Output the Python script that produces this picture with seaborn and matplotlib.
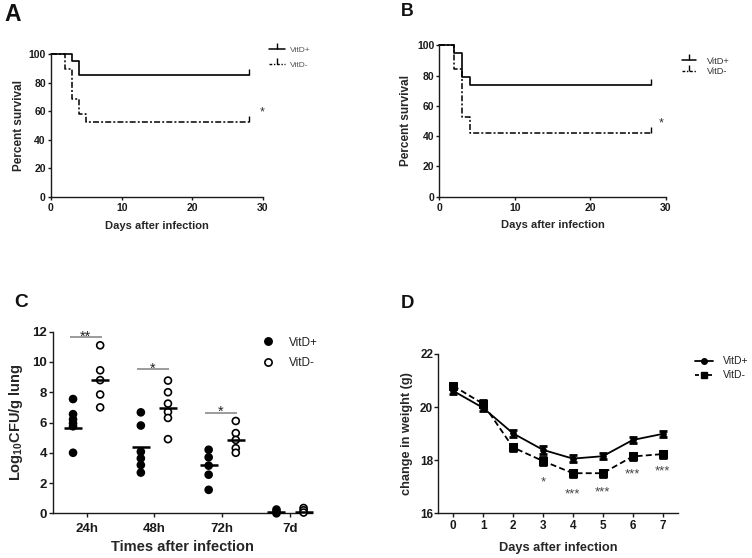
import numpy as np
import pandas as pd
import matplotlib
matplotlib.use("Agg")
import matplotlib.pyplot as plt
import seaborn as sns
from matplotlib.lines import Line2D

# ---------------- data ----------------
groups = ["VitD+", "VitD-"]

# Panel A (Kaplan-Meier steps)
days_a_pos = [0, 3, 4, 28]
surv_a_pos = [100, 95, 85, 85]
days_a_neg = [0, 2, 3, 4, 5, 28]
surv_a_neg = [100, 89.5, 68.4, 57.9, 52.6, 52.6]
star_a = (29.9, 59.4)

# Panel B
days_b_pos = [0, 2, 3, 4, 28]
surv_b_pos = [100, 94.7, 78.9, 73.7, 73.7]
days_b_neg = [0, 2, 3, 4, 28]
surv_b_neg = [100, 84.2, 52.6, 42.1, 42.1]
star_b = (29.4, 48.7)

survival_ticks = [0, 20, 40, 60, 80, 100]
day_ticks = [0, 10, 20, 30]

# Panel C (log10 CFU per g lung)
times_c = ["24h", "48h", "72h", "7d"]
cfu_pos_24h = [7.55, 6.55, 6.2, 5.95, 5.75, 4.0]
cfu_neg_24h = [11.1, 9.45, 8.8, 7.85, 7.0]
cfu_pos_48h = [6.67, 5.8, 4.07, 3.63, 3.19, 2.69]
cfu_neg_48h = [8.77, 8.0, 7.25, 6.7, 6.3, 4.9]
cfu_pos_72h = [4.2, 3.7, 3.15, 2.55, 1.55]
cfu_neg_72h = [6.1, 5.3, 4.85, 4.3, 4.0]
cfu_pos_7d = [0.25, 0.1, 0.0]
cfu_neg_7d = [0.35, 0.2, 0.05]
mean_pos_c = [5.66, 4.36, 3.19, 0.08]
mean_neg_c = [8.8, 6.98, 4.85, 0.1]
sig_labels_c = ["**", "*", "*"]
sig_heights_c = [11.63, 9.54, 6.65]
cfu_ticks = [0, 2, 4, 6, 8, 10, 12]

# Panel D (weight)
days_d = [0, 1, 2, 3, 4, 5, 6, 7]
weight_pos = [20.61, 19.97, 19.01, 18.39, 18.06, 18.15, 18.76, 18.99]
weight_neg = [20.8, 20.12, 18.48, 17.97, 17.51, 17.51, 18.14, 18.23]
sem_pos = [0.10, 0.12, 0.13, 0.14, 0.12, 0.11, 0.12, 0.10]
sem_neg = [0.10, 0.13, 0.14, 0.15, 0.13, 0.13, 0.12, 0.13]
star_days_d = [3, 4, 5, 6, 7]
star_labels_d = ["*", "***", "***", "***", "***"]
star_y_d = [17.34, 16.9, 16.96, 17.66, 17.75]
weight_ticks = [16, 18, 20, 22]

# ---------------- style ----------------
sns.set_style("ticks")
plt.rcParams["font.family"] = ["Liberation Sans", "DejaVu Sans"]
plt.rcParams["mathtext.fontset"] = "custom"
plt.rcParams["mathtext.rm"] = "Liberation Sans:bold"
plt.rcParams["mathtext.it"] = "Liberation Sans:italic"
plt.rcParams["mathtext.bf"] = "Liberation Sans:bold"
plt.rcParams["axes.edgecolor"] = "#1a1a1a"
plt.rcParams["xtick.color"] = "#1a1a1a"
plt.rcParams["ytick.color"] = "#1a1a1a"

W, H = 752, 558
fig = plt.figure(figsize=(W / 100, H / 100), dpi=100)


def px_axes(left, top, right, bottom):
    return fig.add_axes([left / W, 1 - bottom / H, (right - left) / W, (bottom - top) / H])


def style_axes(ax, lw, tlen, tsize, xpad, ypad):
    for s in ["top", "right"]:
        ax.spines[s].set_visible(False)
    for s in ["left", "bottom"]:
        ax.spines[s].set_linewidth(lw)
    ax.tick_params(axis="both", direction="out", length=tlen, width=lw, labelsize=tsize)
    ax.tick_params(axis="x", pad=xpad)
    ax.tick_params(axis="y", pad=ypad)
    for lab in ax.get_xticklabels() + ax.get_yticklabels():
        lab.set_fontweight("bold")


def legend_at(ax, handles, left, top, fs, hl, htp, ls, color="#222222"):
    leg = ax.legend(handles, groups, loc="upper left",
                    bbox_to_anchor=(left / W, 1 - top / H),
                    bbox_transform=fig.transFigure, frameon=False,
                    borderpad=0, borderaxespad=0, fontsize=fs,
                    handlelength=hl, handletextpad=htp, labelspacing=ls)
    for t in leg.get_texts():
        t.set_color(color)
    return leg


dashdot = (0, (3.9, 1.4, 1.3, 1.4))


def survival_panel(ax, dpos, spos, dneg, sneg, star, leg_left, leg_top, leg_fs, leg_ls,
                   leg_hl, leg_htp, leg_color):
    sns.lineplot(x=dpos, y=spos, ax=ax, color="k", linewidth=1.2,
                 drawstyle="steps-post", marker=2, markevery=[len(dpos) - 1],
                 markersize=4, markeredgewidth=1.0, markeredgecolor="k",
                 errorbar=None, clip_on=False)
    sns.lineplot(x=dneg, y=sneg, ax=ax, color="k", linewidth=1.1,
                 drawstyle="steps-post", linestyle=dashdot, marker=2,
                 markevery=[len(dneg) - 1], markersize=4, markeredgewidth=1.0,
                 markeredgecolor="k", errorbar=None, clip_on=False)
    ax.set_xlim(0, 30)
    ax.set_ylim(0, 100)
    ax.set_xticks(day_ticks)
    ax.set_yticks(survival_ticks)
    style_axes(ax, 1.0, 2.2, 7.5, 2.0, 1.5)
    ax.set_xlabel("Days after infection", fontsize=8, fontweight="bold")
    ax.set_ylabel("Percent survival", fontsize=8.5, fontweight="bold")
    ax.text(star[0], star[1], "*", ha="center", va="center", fontsize=9,
            color="#333333", clip_on=False)
    h1 = Line2D([], [], color="k", lw=1.1, marker=2, markersize=4, markevery=[1],
                markeredgewidth=1.0)
    h2 = Line2D([], [], color="k", lw=1.0, ls=(0, (2.0, 1.2, 1.0, 1.2)), marker=2,
                markersize=4, markevery=[1], markeredgewidth=1.0)
    legend_at(ax, [h1, h2], leg_left, leg_top, leg_fs, leg_hl, leg_htp, leg_ls, leg_color)


# ---------------- Panel A ----------------
axA = px_axes(51, 54, 263, 197)
survival_panel(axA, days_a_pos, surv_a_pos, days_a_neg, surv_a_neg, star_a,
               269, 46, 6, 0.92, 1.92, 0.6, "#555555")
axA.yaxis.set_label_coords(-0.123, 0.5)
axA.xaxis.set_label_coords(0.5, -0.165)

# ---------------- Panel B ----------------
axB = px_axes(439.3, 45.3, 666, 196.7)
survival_panel(axB, days_b_pos, surv_b_pos, days_b_neg, surv_b_neg, star_b,
               681.7, 56.5, 6.7, 0.15, 1.55, 1.16, "#333333")
axB.yaxis.set_label_coords(-0.122, 0.5)
axB.xaxis.set_label_coords(0.5, -0.152)

# ---------------- Panel C ----------------
rows = []
for t, vp, vn in zip(times_c,
                     [cfu_pos_24h, cfu_pos_48h, cfu_pos_72h, cfu_pos_7d],
                     [cfu_neg_24h, cfu_neg_48h, cfu_neg_72h, cfu_neg_7d]):
    rows += [(t, "VitD+", v) for v in vp]
    rows += [(t, "VitD-", v) for v in vn]
df_c = pd.DataFrame(rows, columns=["time", "group", "cfu"])
df_cm = pd.DataFrame(
    [(t, "VitD+", m) for t, m in zip(times_c, mean_pos_c)] +
    [(t, "VitD-", m) for t, m in zip(times_c, mean_neg_c)],
    columns=["time", "group", "cfu"])

axC = px_axes(52.7, 331.7, 312.4, 513.3)
sns.stripplot(data=df_c, x="time", y="cfu", hue="group", order=times_c,
              hue_order=groups, dodge=True, jitter=False,
              palette={"VitD+": "black", "VitD-": "white"}, edgecolor="black",
              linewidth=1.2, size=5, ax=axC, legend=False, clip_on=False, zorder=3)
sns.pointplot(data=df_cm, x="time", y="cfu", hue="group", order=times_c,
              hue_order=groups, dodge=0.4, markers="_", linestyles="none",
              palette={"VitD+": "black", "VitD-": "black"}, errorbar=None,
              legend=False, ax=axC, markersize=13, markeredgewidth=1.8,
              clip_on=False, zorder=4)
axC.set_xlim(-0.5, 3.33)
axC.set_ylim(0, 12)
axC.set_yticks(cfu_ticks)
style_axes(axC, 1.0, 3.0, 9.5, 4.0, 1.0)
axC.set_xlabel("Times after infection", fontsize=10.5, fontweight="bold")
axC.set_ylabel("Log$_\\mathregular{10}$CFU/g lung", fontsize=10.5, fontweight="bold")
axC.yaxis.set_label_coords(-0.107, 0.5)
axC.xaxis.set_label_coords(0.5, -0.147)
for i, (lab, h) in enumerate(zip(sig_labels_c, sig_heights_c)):
    axC.hlines(h, i - 0.25, i + 0.22, color="#8a8a8a", linewidth=1.2)
    axC.annotate(lab, xy=(i - 0.02, h), xytext=(0, -2.5), textcoords="offset points",
                 ha="center", va="baseline", fontsize=10.5, color="#222222")
hc1 = Line2D([], [], ls="none", marker="o", ms=5.2, mfc="black", mec="black", mew=1.2)
hc2 = Line2D([], [], ls="none", marker="o", ms=5.2, mfc="white", mec="black", mew=1.2)
legend_at(axC, [hc1, hc2], 262, 336.5, 8.5, 1.0, 1.27, 0.75, "#222222")

# ---------------- Panel D ----------------
df_d = pd.DataFrame({"day": days_d * 2,
                     "weight": weight_pos + weight_neg,
                     "group": ["VitD+"] * len(days_d) + ["VitD-"] * len(days_d)})
axD = px_axes(438.3, 354, 677.5, 513.3)
sub_p = df_d[df_d["group"] == "VitD+"]
sub_n = df_d[df_d["group"] == "VitD-"]
sns.lineplot(data=sub_p, x="day", y="weight", ax=axD, color="k", linewidth=1.3,
             marker="o", markersize=4, markeredgecolor="k", errorbar=None, zorder=3)
sns.lineplot(data=sub_n, x="day", y="weight", ax=axD, color="k", linewidth=1.3,
             linestyle=(0, (3.3, 1.8)), marker="s", markersize=5.2,
             markeredgecolor="k", errorbar=None, zorder=3)
axD.errorbar(days_d, weight_pos, yerr=sem_pos, fmt="none", ecolor="k",
             elinewidth=2.0, capsize=3.0, capthick=2.0, zorder=4)
axD.errorbar(days_d, weight_neg, yerr=sem_neg, fmt="none", ecolor="k",
             elinewidth=2.0, capsize=3.0, capthick=2.0, zorder=4)
axD.set_xlim(-0.5, 7.5)
axD.set_ylim(16, 22)
axD.set_xticks(days_d)
axD.set_yticks(weight_ticks)
style_axes(axD, 1.0, 3.0, 8.5, 1.7, 0.7)
axD.set_xlabel("Days after infection", fontsize=9.2, fontweight="bold")
axD.set_ylabel("change in weight (g)", fontsize=9.2, fontweight="bold")
axD.yaxis.set_label_coords(-0.105, 0.5)
axD.xaxis.set_label_coords(0.5, -0.178)
for d, lab, y in zip(star_days_d, star_labels_d, star_y_d):
    axD.annotate(lab, xy=(d, y), xytext=(0, -0.585 * 9.5), textcoords="offset points",
                 ha="center", va="baseline", fontsize=9.5, color="#444444")
hd1 = Line2D([], [], color="k", lw=1.3, marker="o", ms=4)
hd2 = Line2D([], [], color="k", lw=1.3, ls=(0, (2.2, 1.4)), marker="s", ms=4.5)
legend_at(axD, [hd1, hd2], 695, 356.3, 7.5, 1.73, 0.93, 0.39, "#222222")

# ---------------- panel letters ----------------
for lab, x, y, fs in [("A", 12.8, 14.7, 16.5), ("B", 407, 11.2, 12.8),
                      ("C", 21.2, 302.5, 13.8), ("D", 407.3, 303.3, 13.3)]:
    fig.text(x / W, 1 - y / H, lab, ha="center", va="center", fontsize=fs,
             fontweight="bold", color="#111111")

fig.savefig("out.png", dpi=100)
